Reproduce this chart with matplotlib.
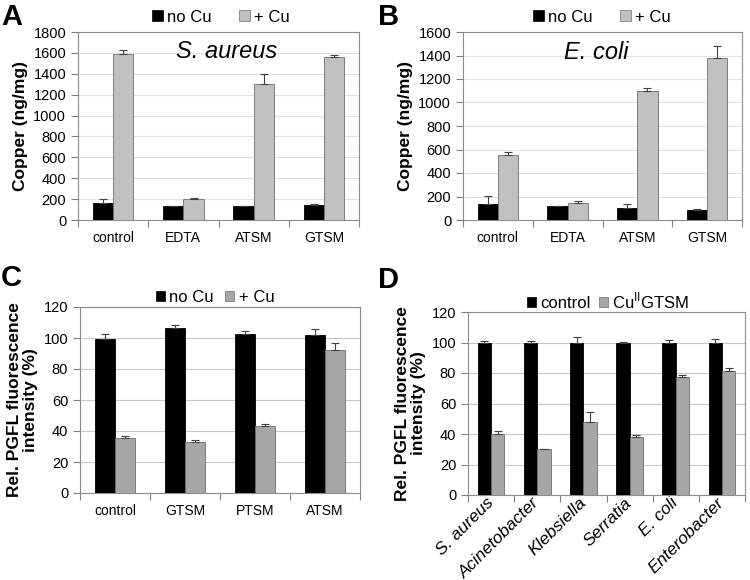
#!/usr/bin/env python3
import numpy as np
import matplotlib
matplotlib.use("Agg")
import matplotlib.pyplot as plt
import matplotlib.transforms as mtransforms
from matplotlib.patches import Patch

plt.rcParams['font.family'] = ['Liberation Sans', 'DejaVu Sans']

W, H = 750, 580

# Panel A - S. aureus copper content
a_cats = ["control", "EDTA", "ATSM", "GTSM"]
a_nocu = [165, 130, 135, 145]
a_nocu_err = [35, 0, 0, 8]
a_cu = [1585, 200, 1305, 1565]
a_cu_err = [45, 15, 95, 15]

# Panel B - E. coli copper content
b_cats = ["control", "EDTA", "ATSM", "GTSM"]
b_nocu = [140, 115, 100, 85]
b_nocu_err = [65, 5, 38, 5]
b_cu = [550, 145, 1095, 1375]
b_cu_err = [30, 15, 30, 110]

# Panel C - PGFL fluorescence, S. aureus
c_cats = ["control", "GTSM", "PTSM", "ATSM"]
c_nocu = [99.5, 106.5, 102.5, 102]
c_nocu_err = [3, 2, 1.8, 4]
c_cu = [35.5, 33, 43.5, 92]
c_cu_err = [1, 1, 0.7, 5]

# Panel D - PGFL fluorescence, several species
d_cats = ["S. aureus", "Acinetobacter", "Klebsiella", "Serratia", "E. coli", "Enterobacter"]
d_ctrl = [100, 100, 100, 100, 100, 100]
d_ctrl_err = [0.7, 1, 3.5, 0.3, 1.5, 2]
d_gtsm = [40, 30, 48, 38, 77.5, 81.5]
d_gtsm_err = [2, 0.3, 6.5, 1.2, 1.5, 1.8]


def px_axes(fig, left, top, right, bottom):
    return fig.add_axes([left / W, 1 - bottom / H, (right - left) / W, (bottom - top) / H])


def bar_panel(ax, cats, v1, e1, v2, e2, c2, ymax, ystep, grid_col):
    n = len(cats)
    x = np.arange(n)
    w = 0.29
    ax.bar(x - w / 2, v1, w, color='black', edgecolor='black', linewidth=0.6, zorder=3)
    ax.bar(x + w / 2, v2, w, color=c2, edgecolor='#6e6e6e', linewidth=0.6, zorder=3)
    z = np.zeros(n)
    ax.errorbar(x - w / 2, v1, yerr=[z, e1], fmt='none', ecolor='#404040',
                elinewidth=0.8, capsize=3, capthick=0.8, zorder=4)
    ax.errorbar(x + w / 2, v2, yerr=[z, e2], fmt='none', ecolor='#404040',
                elinewidth=0.8, capsize=3, capthick=0.8, zorder=4)
    ax.set_xlim(-0.5, n - 0.5)
    ax.set_ylim(0, ymax)
    ax.set_yticks(np.arange(0, ymax + 1, ystep))
    ax.set_xticks(x)
    ax.set_xticklabels(cats)
    ax.set_xticks(np.arange(n + 1) - 0.5, minor=True)
    ax.tick_params(axis='x', which='major', length=0, labelsize=10, pad=8)
    ax.tick_params(axis='x', which='minor', length=5, color='#808080', width=0.8)
    ax.tick_params(axis='y', length=5, color='#808080', width=0.8, labelsize=10.5)
    ax.yaxis.grid(True, color=grid_col, linewidth=0.8, zorder=0)
    ax.set_axisbelow(True)
    for s in ax.spines.values():
        s.set_color('#8c8c8c')
        s.set_linewidth(0.8)


def legend_at(fig, cx, cy, labels, c2, hl=0.65, cs=1.4):
    handles = [Patch(facecolor='black', edgecolor='black', linewidth=0.5),
               Patch(facecolor=c2, edgecolor='#6e6e6e', linewidth=0.5)]
    fig.legend(handles, labels, loc='center', bbox_to_anchor=(cx / W, 1 - cy / H),
               ncol=2, frameon=False, fontsize=12, handlelength=hl, handleheight=hl,
               handletextpad=0.25, columnspacing=cs, borderpad=0)


fig = plt.figure(figsize=(7.5, 5.8), dpi=100)

axA = px_axes(fig, 78, 32, 359, 220)
bar_panel(axA, a_cats, a_nocu, a_nocu_err, a_cu, a_cu_err, '#c0c0c0', 1800, 200, '#e3e3e3')
axA.set_ylabel("Copper (ng/mg)", fontsize=12.5, fontweight='bold', labelpad=4)
axA.text(0.53, 0.895, "S. aureus", transform=axA.transAxes, ha='center', va='center',
         fontsize=17, style='italic')

axB = px_axes(fig, 463, 32, 742, 220)
bar_panel(axB, b_cats, b_nocu, b_nocu_err, b_cu, b_cu_err, '#c0c0c0', 1600, 200, '#e3e3e3')
axB.set_ylabel("Copper (ng/mg)", fontsize=12.5, fontweight='bold', labelpad=4)
axB.text(0.477, 0.89, "E. coli", transform=axB.transAxes, ha='center', va='center',
         fontsize=17, style='italic')

axC = px_axes(fig, 80, 307, 360, 493)
bar_panel(axC, c_cats, c_nocu, c_nocu_err, c_cu, c_cu_err, '#a6a6a6', 120, 20, '#c8c8c8')
axC.set_ylabel("Rel. PGFL fluorescence\nintensity (%)", fontsize=12.5, fontweight='bold',
               labelpad=4, linespacing=1.1)

axD = px_axes(fig, 468, 312, 745, 495)
bar_panel(axD, d_cats, d_ctrl, d_ctrl_err, d_gtsm, d_gtsm_err, '#a6a6a6', 120, 20, '#c8c8c8')
axD.set_ylabel("Rel. PGFL fluorescence\nintensity (%)", fontsize=12.5, fontweight='bold',
               labelpad=4, linespacing=1.1)
# Excel-style rotated labels sit a bit left of and below the category centre
shift = mtransforms.ScaledTranslation(-19 / 100, -12 / 100, fig.dpi_scale_trans)
for lab in axD.get_xticklabels():
    lab.set_rotation(45)
    lab.set_ha('right')
    lab.set_va('center')
    lab.set_rotation_mode('anchor')
    lab.set_style('italic')
    lab.set_fontsize(12.5)
    lab.set_transform(lab.get_transform() + shift)
axD.tick_params(axis='x', which='major', pad=4)

legend_at(fig, 221, 17, ["no Cu", "+ Cu"], '#c0c0c0', hl=0.65, cs=1.6)
legend_at(fig, 602, 17, ["no Cu", "+ Cu"], '#c0c0c0', hl=0.65, cs=1.6)
legend_at(fig, 215, 297, ["no Cu", "+ Cu"], '#a6a6a6', hl=0.55, cs=0.7)
legend_at(fig, 608, 301, ["control", r"Cu$^{\mathregular{II}}$GTSM"], '#a6a6a6', hl=0.55, cs=0.5)

for letter, x, y in [("A", 1, 3), ("B", 378, 3), ("C", 1, 264), ("D", 378, 266)]:
    fig.text(x / W, 1 - y / H, letter, fontsize=21, fontweight='bold', ha='left', va='top')

fig.savefig("out.png", dpi=100)
